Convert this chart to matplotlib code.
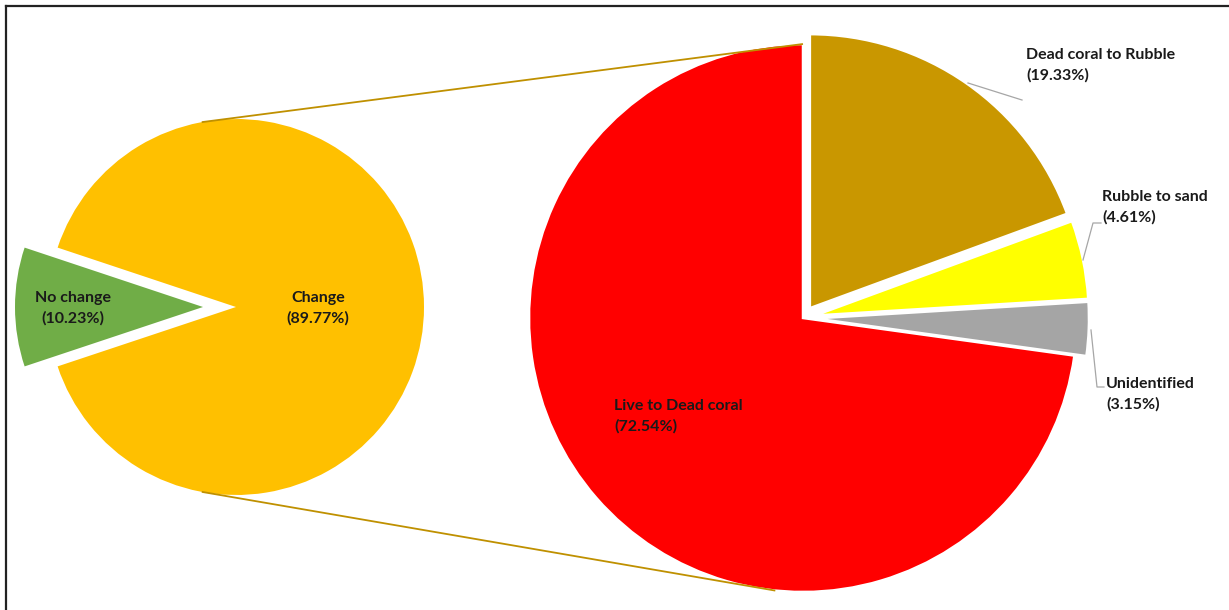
import numpy as np
import matplotlib.pyplot as plt

# ---- data ----
main_labels = ['No change', 'Change']
main_values = [10.23, 89.77]
main_colors = ['#70AD47', '#FFC000']

sub_labels = ['Dead coral to Rubble', 'Rubble to sand', 'Unidentified', 'Live to Dead coral']
sub_values = [19.33, 4.61, 3.15, 72.54]
sub_colors = ['#C99700', '#FFFF00', '#A5A5A5', '#FF0000']

W, H = 1229, 610


def py(y):
    # image rows (top-down) -> axis y (bottom-up)
    return H - y


def main():
    fig = plt.figure(figsize=(W / 100, H / 100), dpi=100)
    ax = fig.add_axes([0, 0, 1, 1])

    # left pie: "No change" pulled out to the left (explode is in data units)
    c1, r1 = (236, py(307)), 188
    start1 = 180 - main_values[0] * 3.6 / 2
    ax.pie(main_values, colors=main_colors, center=c1, radius=r1,
           startangle=start1, counterclock=True, explode=[33, 0],
           wedgeprops=dict(edgecolor='none'), frame=True)

    # right pie: breakdown of "Change", clockwise from 12 o'clock
    c2, r2 = (803, py(318)), 274
    ax.pie(sub_values, colors=sub_colors, center=c2, radius=r2,
           startangle=90, counterclock=False, explode=[12, 12, 12, 0],
           wedgeprops=dict(edgecolor='white', linewidth=1.8), frame=True)

    ax.set_xlim(0, W)
    ax.set_ylim(0, H)
    ax.set_aspect('equal')
    ax.axis('off')

    # connector lines between the two pies
    line_col = '#BF9000'
    for a1, a2 in [(100.5, 90), (259.5, 264.2)]:
        x0 = c1[0] + r1 * np.cos(np.radians(a1))
        y0 = c1[1] + r1 * np.sin(np.radians(a1))
        x1 = c2[0] + r2 * np.cos(np.radians(a2))
        y1 = c2[1] + r2 * np.sin(np.radians(a2))
        ax.plot([x0, x1], [y0, y1], color=line_col, lw=1.3, zorder=5,
                solid_capstyle='butt')

    font = dict(family=['Lato', 'DejaVu Sans'], fontweight='bold',
                fontsize=11.5, color='#1a1a1a', linespacing=1.5)

    def lab(x, y, s, **kw):
        ax.text(x, py(y), s, va='center', zorder=6, **font, **kw)

    lab(73, 308, f'{main_labels[0]}\n({main_values[0]:.2f}%)', ha='center')
    lab(318, 308, f'{main_labels[1]}\n({main_values[1]:.2f}%)', ha='center')
    lab(614, 416, f'{sub_labels[3]}\n({sub_values[3]:.2f}%)', ha='left')
    lab(1026, 65, f'{sub_labels[0]}\n({sub_values[0]:.2f}%)', ha='left')
    lab(1102, 207, f'{sub_labels[1]}\n({sub_values[1]:.2f}%)', ha='left')
    lab(1106, 394, f'{sub_labels[2]}\n({sub_values[2]:.2f}%)', ha='left')

    # leader lines for the outside labels
    lead = dict(color='#A6A6A6', lw=0.9, zorder=4)
    ax.plot([968, 1022], [py(83), py(100)], **lead)
    ax.plot([1083, 1093, 1101], [py(260), py(223), py(223)], **lead)
    ax.plot([1091, 1097, 1104], [py(330), py(387), py(387)], **lead)

    # outer frame (top and left edges)
    ax.plot([6, W], [py(5.5), py(5.5)], color='#222222', lw=1.6, zorder=7)
    ax.plot([6, 6], [py(5.5), 0], color='#222222', lw=1.6, zorder=7)

    fig.savefig('out.png', dpi=100)


if __name__ == '__main__':
    main()
